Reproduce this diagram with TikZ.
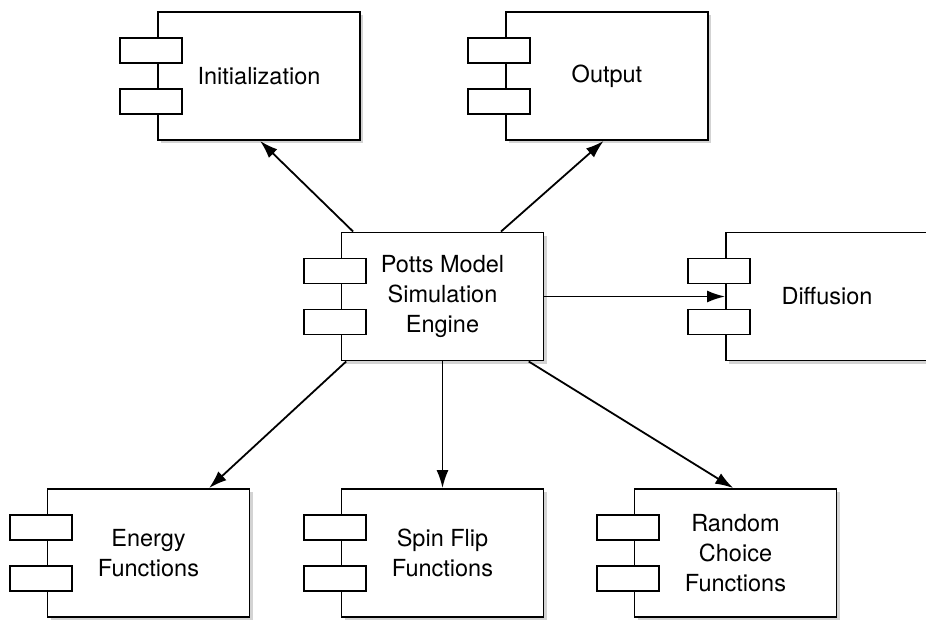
\documentclass[tikz,border=0pt]{standalone}
\usepackage{fontspec}
\setmainfont{TeX Gyre Heros}
\usepackage{tikz}
\usetikzlibrary{calc,arrows.meta,shadows}

\begin{document}
\begin{tikzpicture}[x=1pt, y=-1pt,
    component/.style={draw, line width=1.9pt, fill=white,
      minimum width=202pt, minimum height=128pt, inner sep=0pt,
      align=center, font=\fontsize{23.5}{30}\selectfont,
      drop shadow={shadow xshift=3pt, shadow yshift=-3pt, opacity=0.35}},
    comptab/.style={draw, line width=1.9pt, fill=white},
    depends/.style={line width=1.8pt, -{Latex[length=18pt, width=12pt]}}]
    % size of the page
    \useasboundingbox (0,0) rectangle (926,619);

    % the engine in the middle
    \node[component] (engine) at (442.5,296.5) {Potts Model\\Simulation\\Engine};

    % top row
    \node[component] (init) at (259,76) {Initialization};
    \node[component] (out) at (607,76) {Output};

    % right of the engine
    \node[component] (diff) at (827,296.5) {Diffusion};

    % bottom row
    \node[component] (energy) at (148.5,553) {Energy\\Functions};
    \node[component] (spin) at (442.5,553) {Spin Flip\\Functions};
    \node[component] (random) at (735.5,553) {Random\\Choice\\Functions};

    % the two small tabs on the left side of each component
    \foreach \n in {init,out,engine,diff,energy,spin,random}{
      \draw[comptab] ($(\n.west)+(-37,-38)$) rectangle ++(62,25);
      \draw[comptab] ($(\n.west)+(-37,13)$) rectangle ++(62,25);
    }

    % dependencies
    \draw[depends] (engine.144) -- (init.-89);
    \draw[depends] (engine.48) -- (out.-93);
    \draw[depends] (engine.east) -- (diff.west);
    \draw[depends] (engine.-146) -- (energy.47);
    \draw[depends] (engine.south) -- (spin.north);
    \draw[depends] (engine.-37) -- (random.92);
\end{tikzpicture}
\end{document}
